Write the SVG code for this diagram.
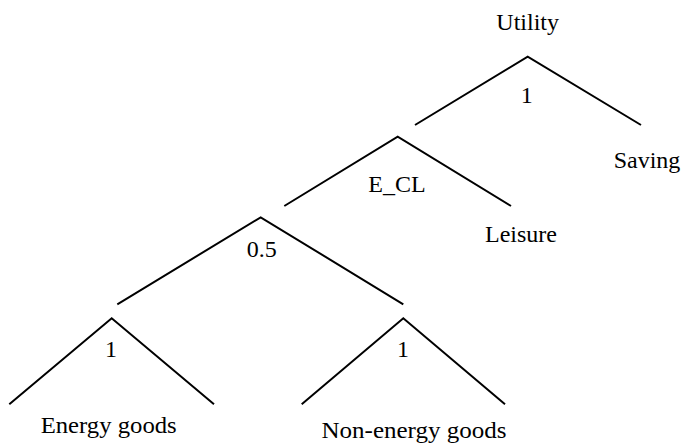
<svg xmlns="http://www.w3.org/2000/svg" width="683" height="445" viewBox="0 0 683 445">
<style>
text{font-family:"Liberation Serif","Times New Roman",serif;font-size:24px;fill:#000;text-anchor:middle}
.c{fill:none;stroke:#000;stroke-width:2;stroke-linejoin:miter}
</style>
<rect width="683" height="445" fill="#fff"/>
<g id="connectors">
<polyline class="c" points="415,125 527.7,56.7 641,125"/>
<polyline class="c" points="284.3,206 397.7,136.7 511,206"/>
<polyline class="c" points="117.3,304.3 260.7,217.3 403.3,304.3"/>
<polyline class="c" points="9.3,404.3 111.7,318.3 214,404.3"/>
<polyline class="c" points="301.7,404.3 403.3,318.3 505,404.3"/>
</g>
<g id="utility"><text x="527.7" y="30">Utility</text></g>
<g id="nest-top"><text x="526.7" y="103.3">1</text></g>
<g id="saving"><text x="647" y="168.3">Saving</text></g>
<g id="nest-ecl"><text x="397" y="192.3">E_CL</text></g>
<g id="leisure"><text x="521" y="241.7">Leisure</text></g>
<g id="nest-05"><text x="261.7" y="256.7">0.5</text></g>
<g id="nest-energy"><text x="111" y="356.7">1</text></g>
<g id="nest-nonenergy"><text x="403" y="356.7">1</text></g>
<g id="energy-goods"><text x="108.7" y="433" textLength="136" lengthAdjust="spacingAndGlyphs">Energy goods</text></g>
<g id="non-energy-goods"><text x="414" y="438" textLength="185" lengthAdjust="spacingAndGlyphs">Non-energy goods</text></g>
</svg>
